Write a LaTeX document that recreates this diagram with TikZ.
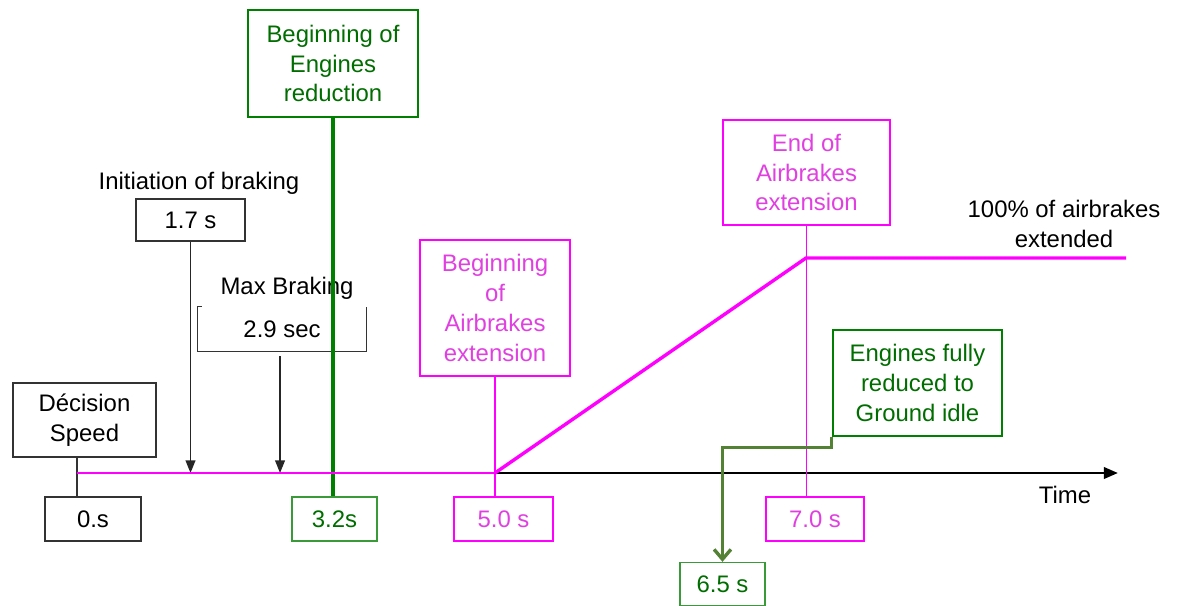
\documentclass[tikz,border=0pt]{standalone}
\usepackage{fontspec}
\setmainfont{Liberation Sans}
\usetikzlibrary{arrows.meta}
\definecolor{mag}{HTML}{FF00FF}
\definecolor{magtext}{HTML}{E040E0}
\definecolor{grn}{HTML}{008000}
\definecolor{grnlight}{HTML}{3A9A3A}
\definecolor{olive}{HTML}{548235}
\begin{document}
\begin{tikzpicture}[x=0.025cm,y=-0.025cm,
    font=\fontsize{17}{21.3}\selectfont]
  \tikzstyle{box}=[draw=black!80,line width=1pt,inner sep=0pt,align=center]
  \tikzstyle{pinkbox}=[box,draw=mag,text=magtext]
  \tikzstyle{greenbox}=[box,draw=grn,line width=2pt,text=grn!85!black]
  \tikzstyle{gtick}=[box,draw=grnlight,text=grn!85!black]
  \useasboundingbox (0,0) rectangle (1181,605);
  % time axis
  \coordinate (o) at (77,473);
  \coordinate (tend) at (1118,473);
  \coordinate (ab0) at (495,473);
  \coordinate (ab1) at (806,258);
  \coordinate (ab2) at (1126,258);
  \draw[line width=2pt,-{Triangle[length=10pt,width=8pt]}] (o) -- (tend);
  \node (time) at (1065,495) {Time};
  % labels and tick boxes
  \node[box,minimum width=143*0.711pt,minimum height=74*0.711pt] (dec) at (84.5,420) {Décision\\Speed};
  \node[box,minimum width=96*0.711pt,minimum height=44*0.711pt] (t0) at (93,519) {0.s};
  \node (init) at (199,183) {Initiation of braking};
  \node[box,minimum width=109*0.711pt,minimum height=42*0.711pt] (t17) at (190.5,220) {1.7 s};
  \node (maxbr) at (287,288) {Max Braking};
  \node[inner sep=0pt,minimum width=168*0.711pt,minimum height=44*0.711pt] (t29) at (282,329) {2.9 sec};
  \draw[black!80,line width=1pt] ([xshift=3pt]t29.north west) -- (t29.north west) -- (t29.south west)
    -- (t29.south east) -- (t29.north east);
  \node[greenbox,minimum width=170*0.711pt,minimum height=107*0.711pt] (engbeg) at (333,63.5) {Beginning of\\Engines\\reduction};
  \node[gtick,minimum width=85*0.711pt,minimum height=44*0.711pt] (t32) at (334.5,519) {3.2s};
  \node[pinkbox,minimum width=150*0.711pt,minimum height=136*0.711pt] (abbeg) at (495,308) {Beginning\\of\\Airbrakes\\extension};
  \node[pinkbox,minimum width=99*0.711pt,minimum height=44*0.711pt] (t50) at (503.5,519) {5.0 s};
  \node[pinkbox,minimum width=167*0.711pt,minimum height=105*0.711pt] (abend) at (806.5,172.5) {End of\\Airbrakes\\extension};
  \node[pinkbox,minimum width=98*0.711pt,minimum height=44*0.711pt] (t70) at (815,519) {7.0 s};
  \node[greenbox,minimum width=169*0.711pt,minimum height=106*0.711pt] (engend) at (917.5,383) {Engines fully\\reduced to\\Ground idle};
  \node[gtick,minimum width=85*0.711pt,minimum height=43*0.711pt] (t65) at (722.5,584) {6.5 s};
  \node[align=center] (full) at (1064,224) {100\% of airbrakes\\extended};
  % connectors
  \draw[black!80,line width=1pt] (o |- dec.south) -- (o |- t0.north);
  \draw[black!85,line width=1pt,-{Triangle[length=9pt,width=7pt]}] (t17.south) -- (t17.south |- o);
  \draw[black!85,line width=1pt,-{Triangle[length=9pt,width=7pt]}] ([xshift=-1.4pt,yshift=-3.5pt]t29.south) -- ([xshift=-1.4pt]t29.south |- o);
  \draw[grn,line width=2.6pt] (engbeg.south) -- (engbeg.south |- t32.north);
  \draw[mag,line width=0.9pt] (abbeg.south) -- (abbeg.south |- t50.north);
  \draw[mag,line width=0.9pt] (abend.south) -- (abend.south |- t70.north);
  % airbrakes curve
  \draw[mag,line width=1.6pt] (o) -- (ab0);
  \draw[mag,line width=2.4pt] (ab0) -- (ab1) -- (ab2);
  \draw[olive,line width=2.4pt,-{Straight Barb[length=7pt,width=12pt]}] (engend.south west) -- ++(0,10) -| (t65.north);
\end{tikzpicture}
\end{document}
